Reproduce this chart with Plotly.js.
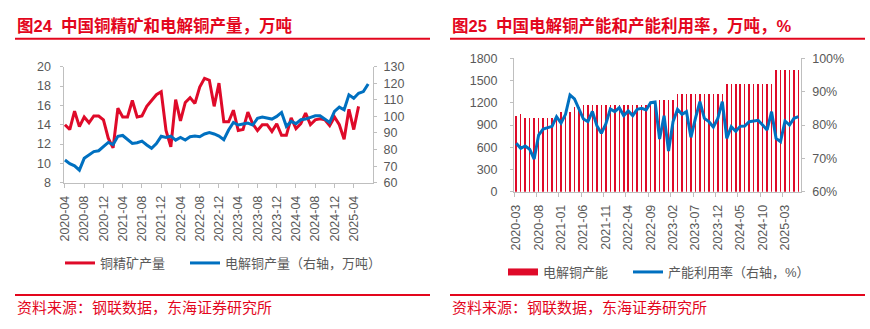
<!DOCTYPE html>
<html><head><meta charset="utf-8">
<script src="https://cdn.plot.ly/plotly-3.0.1.min.js"></script>
<style>html,body{margin:0;padding:0;background:#fff;}#chart{width:870px;height:329px;}</style>
</head><body><div id="chart"></div>
<script>
// ---- Left chart data (图24) ----
const monthsLeft = [
 '2020-04','2020-05','2020-06','2020-07','2020-08','2020-09','2020-10','2020-11','2020-12',
 '2021-01','2021-02','2021-03','2021-04','2021-05','2021-06','2021-07','2021-08','2021-09','2021-10','2021-11','2021-12',
 '2022-01','2022-02','2022-03','2022-04','2022-05','2022-06','2022-07','2022-08','2022-09','2022-10','2022-11','2022-12',
 '2023-01','2023-02','2023-03','2023-04','2023-05','2023-06','2023-07','2023-08','2023-09','2023-10','2023-11','2023-12',
 '2024-01','2024-02','2024-03','2024-04','2024-05','2024-06','2024-07','2024-08','2024-09','2024-10','2024-11','2024-12',
 '2025-01','2025-02','2025-03','2025-04','2025-05','2025-06','2025-07'];
const leftTickLabels = ['2020-04','2020-08','2020-12','2021-04','2021-08','2021-12','2022-04','2022-08','2022-12',
 '2023-04','2023-08','2023-12','2024-04','2024-08','2024-12','2025-04'];
// 铜精矿产量 (left axis, 万吨) 2020-04 .. 2025-05
const concentrate = [14.0,13.5,15.4,13.8,14.8,14.2,14.9,14.9,14.5,
 12.6,11.6,15.7,14.8,14.8,16.5,14.8,14.9,15.9,16.5,17.1,17.4,
 13.4,11.7,16.6,14.4,16.3,16.8,16.2,17.9,18.8,18.6,15.9,18.3,
 14.3,14.3,15.5,13.4,13.5,15.3,14.1,13.4,14.0,14.0,13.3,14.1,
 12.9,12.9,14.7,13.6,14.1,15.2,14.0,14.5,14.6,14.5,13.9,14.8,
 14.0,12.5,15.6,13.5,15.9];
// 电解铜产量 (right axis, 万吨) 2020-04 .. 2025-07
const electrolytic = [73.7,71.5,70.2,67.6,74.7,77.0,78.8,79.3,82.0,
 84.3,83.0,88.0,88.5,86.2,83.7,84.1,85.1,82.8,80.8,83.6,88.0,
 87.3,88.1,85.7,87.3,85.7,87.7,88.1,87.7,89.4,90.2,89.4,88.1,
 85.9,91.8,96.4,94.8,95.4,96.0,94.8,98.8,99.6,99.0,98.4,100.0,
 102.4,94.0,97.0,95.6,98.0,98.4,99.6,100.4,100.4,98.4,96.4,103.0,
 105.6,104.0,113.0,111.0,114.0,115.0,119.6];

// ---- Right chart data (图25) ----
const monthsRight = [
 '2020-03','2020-04','2020-05','2020-06','2020-07','2020-08','2020-09','2020-10','2020-11','2020-12',
 '2021-01','2021-02','2021-03','2021-04','2021-05','2021-06','2021-07','2021-08','2021-09','2021-10','2021-11','2021-12',
 '2022-01','2022-02','2022-03','2022-04','2022-05','2022-06','2022-07','2022-08','2022-09','2022-10','2022-11','2022-12',
 '2023-01','2023-02','2023-03','2023-04','2023-05','2023-06','2023-07','2023-08','2023-09','2023-10','2023-11','2023-12',
 '2024-01','2024-02','2024-03','2024-04','2024-05','2024-06','2024-07','2024-08','2024-09','2024-10','2024-11','2024-12',
 '2025-01','2025-02','2025-03','2025-04','2025-05','2025-06'];
const rightTickLabels = ['2020-03','2020-08','2021-01','2021-06','2021-11','2022-04','2022-09',
 '2023-02','2023-07','2023-12','2024-05','2024-10','2025-03'];
// 电解铜产能 (万吨)
const capacity = [1025,1045,1000,1000,1000,1000,1000,1000,1000,1030,
 1080,1080,1080,1140,1140,1170,1170,1170,1170,1170,1170,1170,
 1170,1170,1170,1170,1170,1170,1170,1170,1170,1200,1235,1235,
 1235,1235,1320,1320,1320,1320,1320,1320,1320,1320,1320,1320,
 1320,1450,1450,1450,1450,1450,1450,1450,1450,1450,1450,1450,
 1645,1645,1645,1645,1645,1645];
// 产能利用率 (%)
const utilization = [74.5,73.0,73.7,72.7,69.8,77.0,78.8,79.2,79.6,82.5,
 80.6,83.2,89.0,87.8,84.6,81.8,81.0,84.1,79.8,77.5,80.3,84.8,
 84.0,85.2,82.8,84.2,82.8,84.7,85.0,84.5,86.7,86.9,75.8,82.8,
 72.2,81.0,84.7,83.2,84.0,76.3,82.0,87.0,82.0,81.0,79.4,82.0,
 87.0,76.0,79.5,78.1,79.6,79.7,81.0,81.3,81.4,80.0,78.5,84.0,
 76.0,75.0,81.2,80.0,82.0,82.5];

// ---- styling ----
const W = 870, H = 329;
const px = v => v / W, py = v => 1 - v / H;
const LATIN = 'Liberation Sans, Arial, Noto Sans CJK SC, sans-serif';
const CJK = 'Liberation Sans, Noto Sans CJK SC, sans-serif';
const GREY = '#595959', AX = '#BFBFBF';
const RED = '#DF0A29', BLUE = '#0070C0', TRED = '#E3061D';

// boundary tick positions for the right (column) chart
const rightBoundaryTicks = rightTickLabels.map(l => monthsRight.indexOf(l) - 0.5);

const traces = [
 {type:'scatter', mode:'lines', x: monthsLeft.slice(0, concentrate.length), y: concentrate,
  name:'铜精矿产量', line:{color:RED, width:3}, xaxis:'x', yaxis:'y', legend:'legend'},
 {type:'scatter', mode:'lines', x: monthsLeft, y: electrolytic,
  name:'电解铜产量（右轴，万吨）', line:{color:BLUE, width:3}, xaxis:'x', yaxis:'y2', legend:'legend2'},
 {type:'bar', x: monthsRight, y: capacity, name:'电解铜产能', width:0.34,
  marker:{color:RED, line:{width:0}}, xaxis:'x2', yaxis:'y3', showlegend:false},
 {type:'scatter', mode:'lines', x:[null], y:[null], name:'电解铜产能',
  line:{color:RED, width:7}, xaxis:'x2', yaxis:'y3', legend:'legend3'},
 {type:'scatter', mode:'lines', x: monthsRight, y: utilization,
  name:'产能利用率（右轴，%）', line:{color:BLUE, width:3}, xaxis:'x2', yaxis:'y4', legend:'legend4'},
 {type:'scatter', mode:'markers', x:[], y:[], xaxis:'x3', yaxis:'y3', showlegend:false, hoverinfo:'skip'}
];

const tickfont = {family: LATIN, size: 12.5, color: GREY};
const baseAxis = {showgrid:false, zeroline:false, showline:true, linecolor:AX, linewidth:1,
  ticks:'outside', ticklen:4, tickcolor:AX, tickwidth:1, tickfont: tickfont, fixedrange:true};
const legendBase = {orientation:'h', xanchor:'left', yanchor:'middle', bgcolor:'rgba(0,0,0,0)',
  borderwidth:0, itemwidth:30, font:{family:CJK, size:13, color:GREY}};

const layout = {
 width: W, height: H, margin:{l:0, r:0, t:0, b:0}, paper_bgcolor:'#fff', plot_bgcolor:'rgba(0,0,0,0)',
 showlegend: true, bargap: 0,
 xaxis: Object.assign({}, baseAxis, {type:'category', domain:[px(63.5), px(373)], anchor:'y',
   range:[-0.3, 64], tickmode:'array', tickvals:leftTickLabels, ticktext:leftTickLabels,
   tickangle:-90, ticklabelstandoff:3}),
 yaxis: Object.assign({}, baseAxis, {domain:[py(182.7), py(66.7)], anchor:'x', range:[8,20],
   tickmode:'linear', tick0:8, dtick:2, ticklen:3, ticklabelstandoff:6}),
 yaxis2: Object.assign({}, baseAxis, {overlaying:'y', side:'right', anchor:'x', range:[60,130],
   tickmode:'linear', tick0:60, dtick:10, ticklen:3, ticklabelstandoff:4}),
 xaxis2: Object.assign({}, baseAxis, {type:'category', domain:[px(514), px(800.7)], anchor:'y3',
   range:[-0.5, monthsRight.length - 0.5], tickmode:'array', tickvals:rightTickLabels,
   ticktext:rightTickLabels, tickangle:-90, ticks:'', ticklabelstandoff:7}),
 xaxis3: {overlaying:'x2', anchor:'y3', type:'linear', range:[-0.5, monthsRight.length - 0.5],
   tickmode:'array', tickvals:rightBoundaryTicks, ticks:'outside', ticklen:4, tickcolor:AX,
   showticklabels:false, showline:false, showgrid:false, zeroline:false, fixedrange:true},
 yaxis3: Object.assign({}, baseAxis, {domain:[py(191.7), py(58.3)], anchor:'x2', range:[0,1800],
   tickmode:'linear', tick0:0, dtick:300, ticklen:3, ticklabelstandoff:10}),
 yaxis4: Object.assign({}, baseAxis, {overlaying:'y3', side:'right', anchor:'x2', range:[60,100],
   tickmode:'linear', tick0:60, dtick:10, ticksuffix:'%', ticklen:3, ticklabelstandoff:5}),
 legend: Object.assign({}, legendBase, {x:px(60), y:py(263)}),
 legend2: Object.assign({}, legendBase, {x:px(185), y:py(263)}),
 legend3: Object.assign({}, legendBase, {x:px(503), y:py(272)}),
 legend4: Object.assign({}, legendBase, {x:px(628), y:py(272)}),
 annotations: [
  {xref:'paper', yref:'paper', x:px(15), y:py(26), xanchor:'left', yanchor:'middle', showarrow:false,
   text:'<b>图24  中国铜精矿和电解铜产量，万吨</b>', font:{family:CJK, size:16.5, color:TRED}},
  {xref:'paper', yref:'paper', x:px(450), y:py(26), xanchor:'left', yanchor:'middle', showarrow:false,
   text:'<b>图25  中国电解铜产能和产能利用率，万吨，%</b>', font:{family:CJK, size:16.5, color:TRED}},
  {xref:'paper', yref:'paper', x:px(15), y:py(307.5), xanchor:'left', yanchor:'middle', showarrow:false,
   text:'资料来源：钢联数据，东海证券研究所', font:{family:CJK, size:15, color:TRED}},
  {xref:'paper', yref:'paper', x:px(450), y:py(307.5), xanchor:'left', yanchor:'middle', showarrow:false,
   text:'资料来源：钢联数据，东海证券研究所', font:{family:CJK, size:15, color:TRED}}
 ],
 shapes: [
  {type:'line', xref:'paper', yref:'paper', x0:px(15), x1:px(430), y0:py(38.7), y1:py(38.7), line:{color:TRED, width:2}},
  {type:'line', xref:'paper', yref:'paper', x0:px(450), x1:px(865), y0:py(38.7), y1:py(38.7), line:{color:TRED, width:2}},
  {type:'line', xref:'paper', yref:'paper', x0:px(15), x1:px(430), y0:py(295), y1:py(295), line:{color:TRED, width:2}},
  {type:'line', xref:'paper', yref:'paper', x0:px(450), x1:px(865), y0:py(295), y1:py(295), line:{color:TRED, width:2}}
 ]
};

Plotly.newPlot('chart', traces, layout, {displayModeBar:false, staticPlot:true});
</script></body></html>
